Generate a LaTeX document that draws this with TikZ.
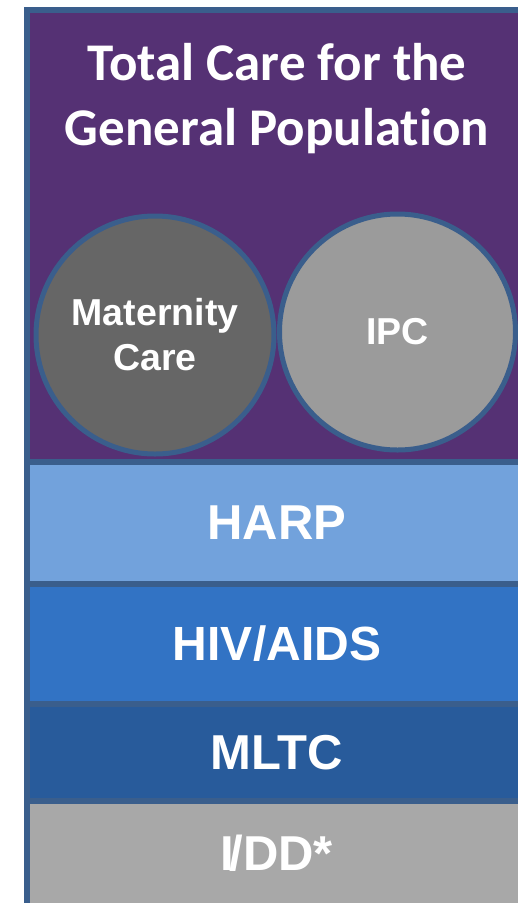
\documentclass[tikz,border=0pt]{standalone}
\usepackage{fontspec}
\newfontfamily\titlefont{Carlito}[Ligatures=NoCommon]
\newfontfamily\labelfont{Liberation Sans}
\definecolor{edgeblue}{HTML}{3A5E8C}
\definecolor{genpurple}{HTML}{553174}
\definecolor{harpblue}{HTML}{72A2DC}
\definecolor{hivblue}{HTML}{3273C4}
\definecolor{mltcblue}{HTML}{285B9B}
\definecolor{iddgray}{HTML}{A8A8A8}
\definecolor{matgray}{HTML}{666666}
\definecolor{ipcgray}{HTML}{9B9B9B}
\begin{document}
\begin{tikzpicture}[
			x=1pt, y=-1pt,
			band/.style={rectangle, draw=edgeblue, line width=6pt, minimum width=499.5pt,
				inner sep=0pt, text=white, font=\labelfont\bfseries\fontsize{49}{58}\selectfont},
			program/.style={circle, draw=edgeblue, line width=5pt, inner sep=0pt,
				text=white, align=center, font=\labelfont\bfseries\fontsize{37.5}{45}\selectfont}
		]
		\useasboundingbox (0,0) rectangle (518,903);
		\clip (0,0) rectangle (518,903);
		\node[band, fill=genpurple, minimum height=452pt] (genpop) at (277,235.5) {};
		\node[text=white, align=center, font=\titlefont\bfseries\fontsize{53}{65}\selectfont]
			(title) at (277,99) {Total Care for the\\General Population};
		\node[program, fill=matgray, minimum size=238pt] (maternity) at (155,335) {Maternity\\Care};
		\node[program, fill=ipcgray, minimum size=236pt] (ipc) at (397.5,332) {IPC};
		\node[band, fill=harpblue, minimum height=122pt] (harp) at (277,522.5) {HARP};
		\node[band, fill=hivblue, minimum height=120.5pt, font=\labelfont\bfseries\fontsize{48}{58}\selectfont] (hiv) at (277,643.75) {HIV/AIDS};
		\node[band, fill=mltcblue, minimum height=97pt] (mltc) at (277,752.5) {MLTC};
		\node[band, fill=iddgray, minimum height=119pt, text depth=16pt] (idd) at (277,860.5) {I\kern-5pt/DD*};
	\end{tikzpicture}
\end{document}
